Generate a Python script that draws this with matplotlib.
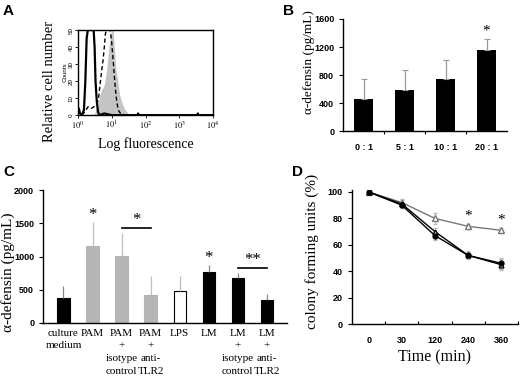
import numpy as np
import matplotlib.pyplot as plt

# --- panel A: flow cytometry histograms (fluorescence, counts)
solid_x = [1.0, 1.05, 1.15, 1.3, 1.5, 1.65, 1.8, 1.95, 2.9, 3.1, 3.3, 3.6, 3.9, 4.3, 6, 10, 20, 58, 60, 62, 3400, 3500, 3600, 10000]
solid_y = [2, 4, 1, 0, 3, 20, 45, 50, 50, 40, 20, 8, 2, 0, 1, 0, 0, 0, 1, 0, 0, 1, 0, 0]
dash_x = [1.3, 1.6, 2.0, 2.5, 3, 3.5, 4, 4.5, 5, 5.5, 6, 6.5, 7, 8, 9, 10, 11, 12, 13, 14, 15.5, 18, 25]
dash_y = [0, 2, 5, 4, 5, 6, 9, 18, 26, 32, 40, 48, 50, 50, 50, 42, 32, 22, 14, 8, 3, 1, 0]
gray_x = [3.0, 3.5, 4, 4.5, 5, 5.5, 6, 6.5, 7, 7.5, 8, 9, 10, 11, 12, 13, 14, 15.5, 17, 19.5, 23, 28, 33]
gray_y = [0, 4, 8, 12, 15, 16, 18, 22, 26, 32, 38, 46, 50, 50, 38, 28, 24, 18, 12, 8, 4, 2, 0]

# --- panel B: ratio vs alpha-defensin
ratios = ['0 : 1', '5 : 1', '10 : 1', '20 : 1']
b_vals = [460, 590, 750, 1160]
b_err = [280, 280, 270, 160]

# --- panel C: stimulation conditions
c_labels = ['culture\nmedium', 'PAM', 'PAM\n+\nisotype\ncontrol', 'PAM\n+\nanti-\nTLR2',
            'LPS', 'LM', 'LM\n+\nisotype\ncontrol', 'LM\n+\nanti-\nTLR2']
c_vals = [370, 1160, 1010, 420, 480, 770, 670, 350]
c_err = [180, 360, 340, 290, 220, 100, 80, 80]
c_group = ['black', 'gray', 'gray', 'gray', 'white', 'black', 'black', 'black']

# --- panel D: colony forming units over time
times = ['0', '30', '120', '240', '360']
d_circle = [100, 90, 67, 52, 46]
d_circle_err = [1, 2, 3, 2, 4]
d_black = [100, 91, 70, 52, 45]
d_black_err = [1, 3, 3, 3, 4]
d_open = [100, 92, 80, 74, 71]
d_open_err = [1, 3, 4, 2, 2]

serif = 'Liberation Serif'
sans = 'Liberation Sans'
plt.rcParams['font.family'] = sans
plt.rcParams['axes.linewidth'] = 1.0
plt.rcParams['mathtext.fontset'] = 'stix'

fig = plt.figure(figsize=(5.2, 3.8), dpi=100)

# ---------------- A
axA = fig.add_axes([0.150, 0.697, 0.260, 0.224])
axA.fill_between(gray_x, gray_y, color='#c4c4c4', lw=0)
axA.plot(dash_x, dash_y, color='black', lw=1.0, ls=(0, (3, 2)))
axA.plot(solid_x, solid_y, color='black', lw=1.6)
axA.set_xscale('log')
axA.set_xlim(1, 1e4)
axA.set_ylim(0, 50)
axA.set_xticks([1, 10, 100, 1000, 10000])
axA.set_xticklabels([r'$10^{0}$', r'$10^{1}$', r'$10^{2}$', r'$10^{3}$', r'$10^{4}$'], fontsize=6)
axA.set_yticks([0, 10, 20, 30, 40, 50])
axA.set_yticklabels(['0', '10', '20', '30', '40', '50'], fontsize=4.5, rotation=90, va='center')
axA.tick_params(length=2, width=0.6, pad=1)
axA.tick_params(which='minor', length=1.2, width=0.5)
axA.set_ylabel('Counts', fontsize=4.5, labelpad=1)
axA.set_xlabel('Log fluorescence', fontsize=10, fontfamily=serif, labelpad=4)
fig.text(0.096, 0.785, 'Relative cell number', rotation=90, fontsize=10.5,
         fontfamily=serif, ha='center', va='center')

# ---------------- B
axB = fig.add_axes([0.660, 0.655, 0.315, 0.295])
xb = np.arange(len(ratios))
axB.bar(xb, b_vals, width=0.45, color='black')
axB.errorbar(xb, b_vals, yerr=[np.zeros(len(b_err)), b_err], fmt='none',
             ecolor='#999999', elinewidth=0.9, capsize=2, capthick=0.8)
axB.text(3, 1340, '*', ha='center', va='bottom', fontsize=11, fontfamily=serif)
axB.set_xlim(-0.5, 3.5)
axB.set_ylim(0, 1600)
axB.set_yticks([0, 400, 800, 1200, 1600])
axB.set_yticklabels(['0', '400', '800', '1200', '1600'], fontsize=6.5, fontweight='bold')
axB.set_xticks([0.5, 1.5, 2.5])
axB.set_xticklabels([])
axB.tick_params(axis='x', length=2.5)
axB.tick_params(axis='y', length=3)
for i, r in enumerate(ratios):
    axB.text(i, -170, r, ha='center', va='top', fontsize=6.5, fontweight='bold')
axB.spines['top'].set_visible(False)
axB.spines['right'].set_visible(False)
axB.set_ylabel('\u03b1-defensin (pg/mL)', fontsize=9.5, fontfamily=serif)
axB.yaxis.set_label_coords(-0.175, 0.62)

# ---------------- C
axC = fig.add_axes([0.083, 0.150, 0.469, 0.350])
xc = np.arange(len(c_labels))
fills = {'black': 'black', 'gray': '#b5b5b5', 'white': 'white'}
errc = {'black': '#888888', 'gray': '#c0c0c0', 'white': '#c0c0c0'}
for i in range(len(c_labels)):
    g = c_group[i]
    axC.bar(xc[i], c_vals[i], width=0.42, color=fills[g], edgecolor='black' if g != 'gray' else '#b5b5b5', lw=0.8)
    axC.errorbar(xc[i], c_vals[i], yerr=[[0], [c_err[i]]], fmt='none',
                 ecolor=errc[g], elinewidth=0.9, capsize=0)
axC.plot([2, 3], [1430, 1430], color='black', lw=1.2)
axC.text(2.5, 1430, '*', ha='center', va='bottom', fontsize=12, fontfamily=serif)
axC.plot([6, 7], [830, 830], color='black', lw=1.2)
axC.text(6.5, 830, '**', ha='center', va='bottom', fontsize=12, fontfamily=serif)
axC.text(1, 1500, '*', ha='center', va='bottom', fontsize=12, fontfamily=serif)
axC.text(5, 860, '*', ha='center', va='bottom', fontsize=12, fontfamily=serif)
axC.set_xlim(-0.7, 7.7)
axC.set_ylim(0, 2000)
axC.set_yticks([0, 500, 1000, 1500, 2000])
axC.set_yticklabels(['0', '500', '1000', '1500', '2000'], fontsize=6.5, fontweight='bold')
axC.set_xticks(xc)
axC.set_xticklabels(c_labels, fontsize=8, fontfamily=serif, linespacing=1.55)
axC.tick_params(axis='x', length=0, pad=4)
axC.tick_params(axis='y', length=3)
axC.spines['top'].set_visible(False)
axC.spines['right'].set_visible(False)
axC.set_ylabel('\u03b1-defensin (pg/mL)', fontsize=11, fontfamily=serif)
axC.yaxis.set_label_coords(-0.115, 0.38)

# ---------------- D
axD = fig.add_axes([0.677, 0.147, 0.319, 0.353])
xd = np.arange(len(times))
axD.errorbar(xd, d_open, yerr=d_open_err, color='#777777', lw=1.0, marker='^', ms=4,
             mfc='white', mec='#777777', ecolor='#bbbbbb', elinewidth=0.8, capsize=1.5)
axD.errorbar(xd, d_black, yerr=d_black_err, color='black', lw=1.0, marker='^', ms=3.5,
             mfc='white', mec='black', ecolor='#bbbbbb', elinewidth=0.8, capsize=1.5)
axD.errorbar(xd, d_circle, yerr=d_circle_err, color='black', lw=1.0, marker='o', ms=3.5,
             mfc='black', ecolor='#bbbbbb', elinewidth=0.8, capsize=1.5)
axD.text(3, 77, '*', ha='center', va='bottom', fontsize=11, fontfamily=serif)
axD.text(4, 74, '*', ha='center', va='bottom', fontsize=11, fontfamily=serif)
axD.set_xlim(-0.5, 4.5)
axD.set_ylim(0, 101.5)
axD.set_yticks([0, 20, 40, 60, 80, 100])
axD.set_yticklabels(['0', '20', '40', '60', '80', '100'], fontsize=6.5, fontweight='bold')
axD.set_xticks([0.5, 1.5, 2.5, 3.5, 4.5])
axD.set_xticklabels([])
axD.tick_params(axis='x', length=2.5, direction='in')
axD.tick_params(axis='y', length=3)
for i, t in enumerate(times):
    axD.text(i, -9, t, ha='center', va='top', fontsize=6.5, fontweight='bold')
axD.spines['top'].set_visible(False)
axD.spines['right'].set_visible(False)
axD.set_ylabel('colony forming units (%)', fontsize=11, fontfamily=serif)
axD.yaxis.set_label_coords(-0.20, 0.545)
axD.text(2, -19, 'Time (min)', ha='center', va='top', fontsize=11.5, fontfamily=serif)

# panel letters
for lab, x, y in [('A', 0.006, 0.99), ('B', 0.544, 0.99), ('C', 0.006, 0.566), ('D', 0.562, 0.566)]:
    fig.text(x, y, lab, fontsize=11, fontweight='bold', va='top', ha='left')

fig.savefig('out.png', dpi=100)
